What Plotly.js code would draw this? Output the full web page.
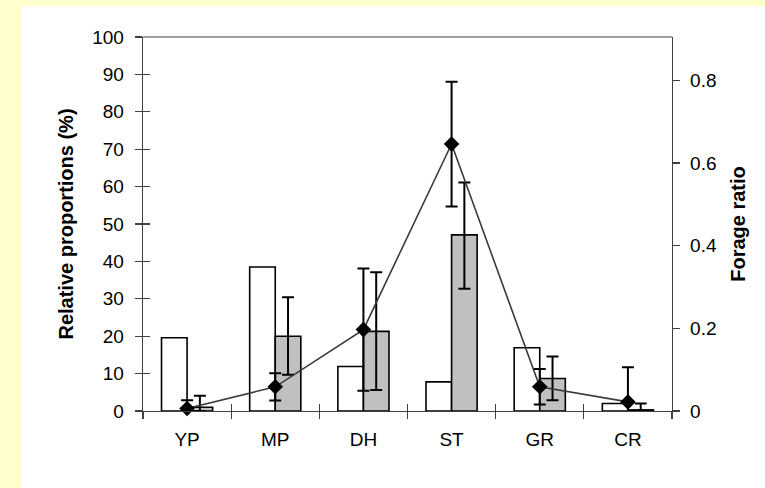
<!DOCTYPE html>
<html>
<head>
<meta charset="utf-8">
<script src="https://cdn.plot.ly/plotly-3.0.1.min.js"></script>
<style>
html,body{margin:0;padding:0;background:#ffffff;overflow:hidden;}
#chart{width:765px;height:488px;}
</style>
</head>
<body>
<div id="chart"></div>
<script>
const categories = ["YP", "MP", "DH", "ST", "GR", "CR"];
const availableProportion = [19.6, 38.5, 11.9, 7.8, 16.9, 2.0];
const usedProportion = [1.0, 20.0, 21.3, 47.1, 8.7, 0.3];
const usedErrPlus = [3.1, 10.4, 15.8, 14.0, 5.9, 1.7];
const usedErrMinus = [1.0, 10.3, 15.7, 14.4, 5.8, 0.3];
const forageRatio = [0.006, 0.0585, 0.197, 0.646, 0.0585, 0.022];
const forageErr = [0.02, 0.033, 0.148, 0.151, 0.043, 0.084];
const leftTicks = [0, 10, 20, 30, 40, 50, 60, 70, 80, 90, 100];
const rightTicks = [0, 0.2, 0.4, 0.6, 0.8];
const rightTickText = ["0", "0.2", "0.4", "0.6", "0.8"];

const font = {family: "Liberation Sans, Arial, sans-serif", size: 19, color: "#000"};
const titleFont = {family: "Liberation Sans, Arial, sans-serif", size: 20, color: "#000"};
const axisColor = "#404040";

const traces = [
  {
    type: "bar", x: categories, y: availableProportion, name: "Available",
    marker: {color: "#ffffff", line: {color: "#000", width: 1.6}},
    xaxis: "x", yaxis: "y", hoverinfo: "skip"
  },
  {
    type: "bar", x: categories, y: usedProportion, name: "Used",
    marker: {color: "#c0c0c0", line: {color: "#000", width: 1.6}},
    error_y: {type: "data", symmetric: false, array: usedErrPlus, arrayminus: usedErrMinus,
              color: "#000", thickness: 2, width: 6},
    xaxis: "x", yaxis: "y", hoverinfo: "skip"
  },
  {
    type: "scatter", mode: "lines+markers", x: categories, y: forageRatio, name: "Forage ratio",
    line: {color: "#3a3a3a", width: 1.6},
    marker: {symbol: "diamond", size: 12, color: "#000"},
    error_y: {type: "data", array: forageErr, color: "#000", thickness: 2, width: 6},
    cliponaxis: false,
    xaxis: "x", yaxis: "y2", hoverinfo: "skip"
  },
  {
    type: "scatter", mode: "markers", x: categories, y: [null, null, null, null, null, null],
    xaxis: "x2", yaxis: "y3", showlegend: false, hoverinfo: "skip"
  }
];

const layout = {
  width: 765, height: 488,
  paper_bgcolor: "#ffffff",
  plot_bgcolor: "rgba(0,0,0,0)",
  margin: {l: 143, r: 93, t: 37, b: 77, pad: 0},
  showlegend: false,
  barmode: "group", bargap: 0.42, bargroupgap: 0,
  font: font,
  xaxis: {
    type: "category", categoryarray: categories, range: [-0.5, 5.5],
    showline: true, linecolor: axisColor, linewidth: 1.3,
    ticks: "outside", tickson: "boundaries", ticklen: 7, tickcolor: axisColor, tickwidth: 1.3,
    ticklabelstandoff: 11,
    showgrid: false, zeroline: false, tickfont: font
  },
  xaxis2: {
    type: "category", categoryarray: categories, range: [-0.5, 5.5],
    overlaying: "x", anchor: "y3",
    ticks: "inside", tickson: "boundaries", ticklen: 7, tickcolor: axisColor, tickwidth: 1.3,
    showticklabels: false, showgrid: false, zeroline: false, showline: false
  },
  yaxis: {
    range: [0, 100], tickvals: leftTicks,
    showline: true, linecolor: axisColor, linewidth: 1.3, mirror: false,
    ticks: "outside", ticklen: 7, tickcolor: axisColor, tickwidth: 1.3,
    ticklabelstandoff: 7,
    showgrid: false, zeroline: false, tickfont: font,
    title: {text: "<b>Relative proportions (%)</b>", font: titleFont, standoff: 13}
  },
  yaxis3: {
    range: [0, 100], tickvals: leftTicks, overlaying: "y", side: "left", anchor: "x2",
    ticks: "inside", ticklen: 7, tickcolor: axisColor, tickwidth: 1.3,
    showticklabels: false, showgrid: false, zeroline: false, showline: false
  },
  yaxis2: {
    range: [0, 0.905], tickvals: rightTicks, ticktext: rightTickText,
    overlaying: "y", side: "right", anchor: "x",
    showline: true, linecolor: axisColor, linewidth: 1.3,
    ticks: "outside", ticklen: 7, tickcolor: axisColor, tickwidth: 1.3,
    ticklabelstandoff: 6,
    showgrid: false, zeroline: false, tickfont: font,
    title: {text: "<b>Forage ratio</b>", font: titleFont, standoff: 15}
  },
  shapes: [
    {type: "rect", xref: "paper", yref: "paper", x0: -0.3, x1: -0.2306, y0: -0.25, y1: 1.12,
     fillcolor: "#ffffcc", line: {width: 0}, layer: "below"},
    {type: "rect", xref: "paper", yref: "paper", x0: -0.3, x1: 1.25, y0: 1.0829, y1: 1.12,
     fillcolor: "#ffffcc", line: {width: 0}, layer: "below"},
    {type: "line", xref: "paper", yref: "paper", x0: 0, x1: 1, y0: 1, y1: 1,
     line: {color: "#808080", width: 1.3}}
  ]
};

Plotly.newPlot("chart", traces, layout, {displayModeBar: false, staticPlot: true});
</script>
</body>
</html>
